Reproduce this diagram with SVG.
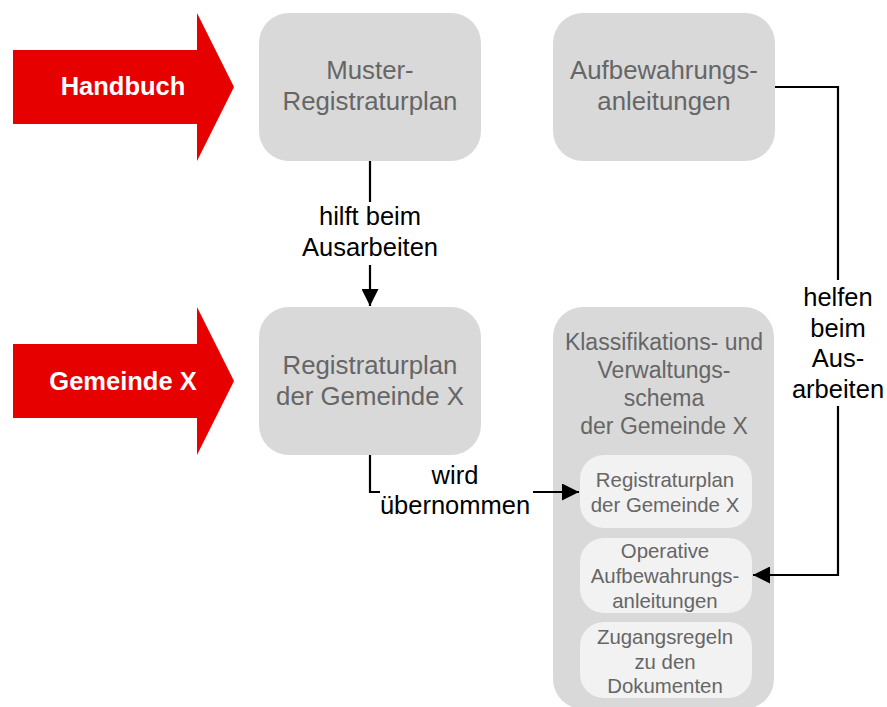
<svg xmlns="http://www.w3.org/2000/svg" width="887" height="707" viewBox="0 0 887 707">
<style>
.arrow{fill:#e60000}
.atxt{font-family:"Liberation Sans",Arial,sans-serif;font-size:25.5px;font-weight:bold;fill:#fff;text-anchor:middle}
.box{fill:#d9d9d9}
.btxt{font-family:"Liberation Sans",Arial,sans-serif;font-size:25.8px;fill:#666;text-anchor:middle}
.ctxt{font-family:"Liberation Sans",Arial,sans-serif;font-size:23px;fill:#666;text-anchor:middle}
.ibox{fill:#f2f2f2}
.itxt{font-family:"Liberation Sans",Arial,sans-serif;font-size:20.4px;fill:#666;text-anchor:middle}
.lbl{font-family:"Liberation Sans",Arial,sans-serif;font-size:25.5px;fill:#000;text-anchor:middle}
.conn{fill:none;stroke:#000;stroke-width:2.2}
</style>
<defs>
<marker id="ah" viewBox="0 0 10 10" refX="10" refY="5" markerWidth="17" markerHeight="17" markerUnits="userSpaceOnUse" orient="auto">
<path d="M0,0 L10,5 L0,10 z" fill="#000"/>
</marker>
</defs>
<g id="handbuch">
<polygon class="arrow" points="13,50 197,50 197,13 234,87 197,161 197,124 13,124"/>
<text class="atxt" x="123" y="95">Handbuch</text>
</g>
<g id="gemeinde">
<polygon class="arrow" points="13,344 197,344 197,307 234,381 197,455 197,418 13,418"/>
<text class="atxt" x="123" y="390">Gemeinde X</text>
</g>
<g id="muster">
<rect class="box" x="259" y="13" width="222" height="148" rx="30"/>
<text class="btxt" x="370" y="79">Muster-</text>
<text class="btxt" x="370" y="110">Registraturplan</text>
</g>
<g id="aufbewahrung">
<rect class="box" x="553" y="13" width="222" height="148" rx="30"/>
<text class="btxt" x="664" y="79">Aufbewahrungs-</text>
<text class="btxt" x="664" y="110">anleitungen</text>
</g>
<g id="registraturplan">
<rect class="box" x="259" y="307" width="222" height="148" rx="30"/>
<text class="btxt" x="370" y="374">Registraturplan</text>
<text class="btxt" x="370" y="405">der Gemeinde X</text>
</g>
<g id="schema">
<rect class="box" x="553" y="307" width="221" height="402" rx="30"/>
<text class="ctxt" x="664" y="350">Klassifikations- und</text>
<text class="ctxt" x="664" y="378">Verwaltungs-</text>
<text class="ctxt" x="664" y="406">schema</text>
<text class="ctxt" x="664" y="434">der Gemeinde X</text>
</g>
<g id="inner-registraturplan">
<rect class="ibox" x="580" y="455" width="172" height="73" rx="24"/>
<text class="itxt" x="665" y="487">Registraturplan</text>
<text class="itxt" x="665" y="512">der Gemeinde X</text>
</g>
<g id="inner-aufbewahrung">
<rect class="ibox" x="580" y="538" width="172" height="75" rx="24"/>
<text class="itxt" x="665" y="558">Operative</text>
<text class="itxt" x="665" y="583">Aufbewahrungs-</text>
<text class="itxt" x="665" y="608">anleitungen</text>
</g>
<g id="inner-zugang">
<rect class="ibox" x="580" y="622" width="172" height="76" rx="24"/>
<text class="itxt" x="665" y="644">Zugangsregeln</text>
<text class="itxt" x="665" y="669">zu den</text>
<text class="itxt" x="665" y="693">Dokumenten</text>
</g>
<g id="connectors">
<path class="conn" d="M370,161 V202"/>
<path class="conn" d="M370,265 V306" marker-end="url(#ah)"/>
<text class="lbl" x="370" y="225">hilft beim</text>
<text class="lbl" x="370" y="256">Ausarbeiten</text>
<path class="conn" d="M370,455 V492 H380"/>
<path class="conn" d="M533,492 H579" marker-end="url(#ah)"/>
<text class="lbl" x="455" y="484">wird</text>
<text class="lbl" x="455" y="514">übernommen</text>
<path class="conn" d="M775,87 H838 V280"/>
<path class="conn" d="M838,406 V575 H753" marker-end="url(#ah)"/>
<text class="lbl" x="838" y="306">helfen</text>
<text class="lbl" x="838" y="337">beim</text>
<text class="lbl" x="838" y="367">Aus-</text>
<text class="lbl" x="838" y="398">arbeiten</text>
</g>
</svg>
